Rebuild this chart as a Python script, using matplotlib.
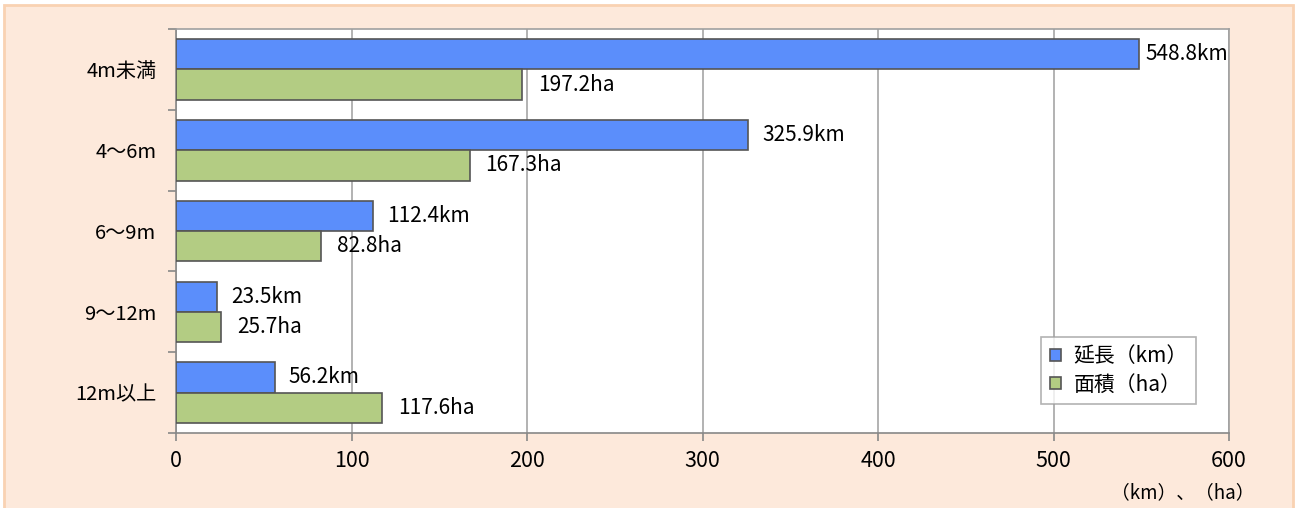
import numpy as np
import matplotlib
matplotlib.use("Agg")
import matplotlib.pyplot as plt
from matplotlib.patches import Rectangle

plt.rcParams['font.family'] = ['Noto Sans CJK JP', 'DejaVu Sans']

# Data
categories = ["4m未満", "4～6m", "6～9m", "9～12m", "12m以上"]
length_km = [548.8, 325.9, 112.4, 23.5, 56.2]
area_ha = [197.2, 167.3, 82.8, 25.7, 117.6]
xticks = [0, 100, 200, 300, 400, 500, 600]

blue, green = "#5B8EFB", "#B3CC83"

fig = plt.figure(figsize=(12.98, 5.08), dpi=100)
fig.patch.set_facecolor("white")
# peach panel behind the chart
fig.patches.append(Rectangle((4 / 1298, -0.01), 1289 / 1298, 1 - 5 / 508 + 0.01,
                             transform=fig.transFigure, facecolor="#FDE9DB",
                             edgecolor="#F9D2B2", linewidth=2, zorder=-10))

ax = fig.add_axes([176 / 1298, 1 - 433 / 508, (1229 - 176) / 1298, (433 - 29) / 508])
ax.set_facecolor("white")

y = np.arange(len(categories))
h = 0.375
ax.barh(y - h / 2, length_km, height=h, color=blue, edgecolor="#555555", linewidth=1.2,
        label="延長（km）", zorder=3)
ax.barh(y + h / 2, area_ha, height=h, color=green, edgecolor="#555555", linewidth=1.2,
        label="面積（ha）", zorder=3)

for i in range(len(categories)):
    off = 6 if length_km[i] > 500 else 14
    ax.annotate(f"{length_km[i]:.1f}km", (length_km[i], y[i] - h / 2),
                xytext=(off, 0), textcoords="offset pixels",
                ha="left", va="center", fontsize=15, zorder=4)
    ax.annotate(f"{area_ha[i]:.1f}ha", (area_ha[i], y[i] + h / 2),
                xytext=(16, 0), textcoords="offset pixels",
                ha="left", va="center", fontsize=15, zorder=4)

ax.set_xlim(0, 600)
ax.set_ylim(len(categories) - 0.5, -0.5)
ax.set_xticks(xticks)
ax.set_xticklabels([str(t) for t in xticks], fontsize=15.5)
ax.set_yticks(y)
ax.set_yticklabels(categories, fontsize=14.5)
ax.set_yticks(np.arange(len(categories) + 1) - 0.5, minor=True)
ax.tick_params(axis="y", which="major", length=0, pad=14)
ax.tick_params(axis="y", which="minor", length=6, color="#888888", width=1.2)
ax.tick_params(axis="x", length=6, color="#888888", width=1.2, pad=6)
ax.grid(axis="x", color="#A6A6A6", linewidth=1.2, zorder=1)
ax.set_axisbelow(True)
for s in ax.spines.values():
    s.set_color("#A0A0A0")
    s.set_linewidth(1.2)
ax.spines["left"].set_color("#888888")
ax.spines["bottom"].set_color("#888888")

leg = ax.legend(loc="lower right", bbox_to_anchor=(0.969, 0.072), fontsize=15,
                frameon=True, fancybox=False, edgecolor="#A0A0A0",
                handlelength=0.55, handleheight=0.55, handletextpad=0.6,
                borderpad=0.4, labelspacing=0.3, borderaxespad=0)
leg.get_frame().set_linewidth(1.2)

fig.text(1255 / 1298, 1 - 493 / 508, "（km）、（ha）", ha="right", va="center", fontsize=13.5)

fig.savefig("out.png", dpi=100)
